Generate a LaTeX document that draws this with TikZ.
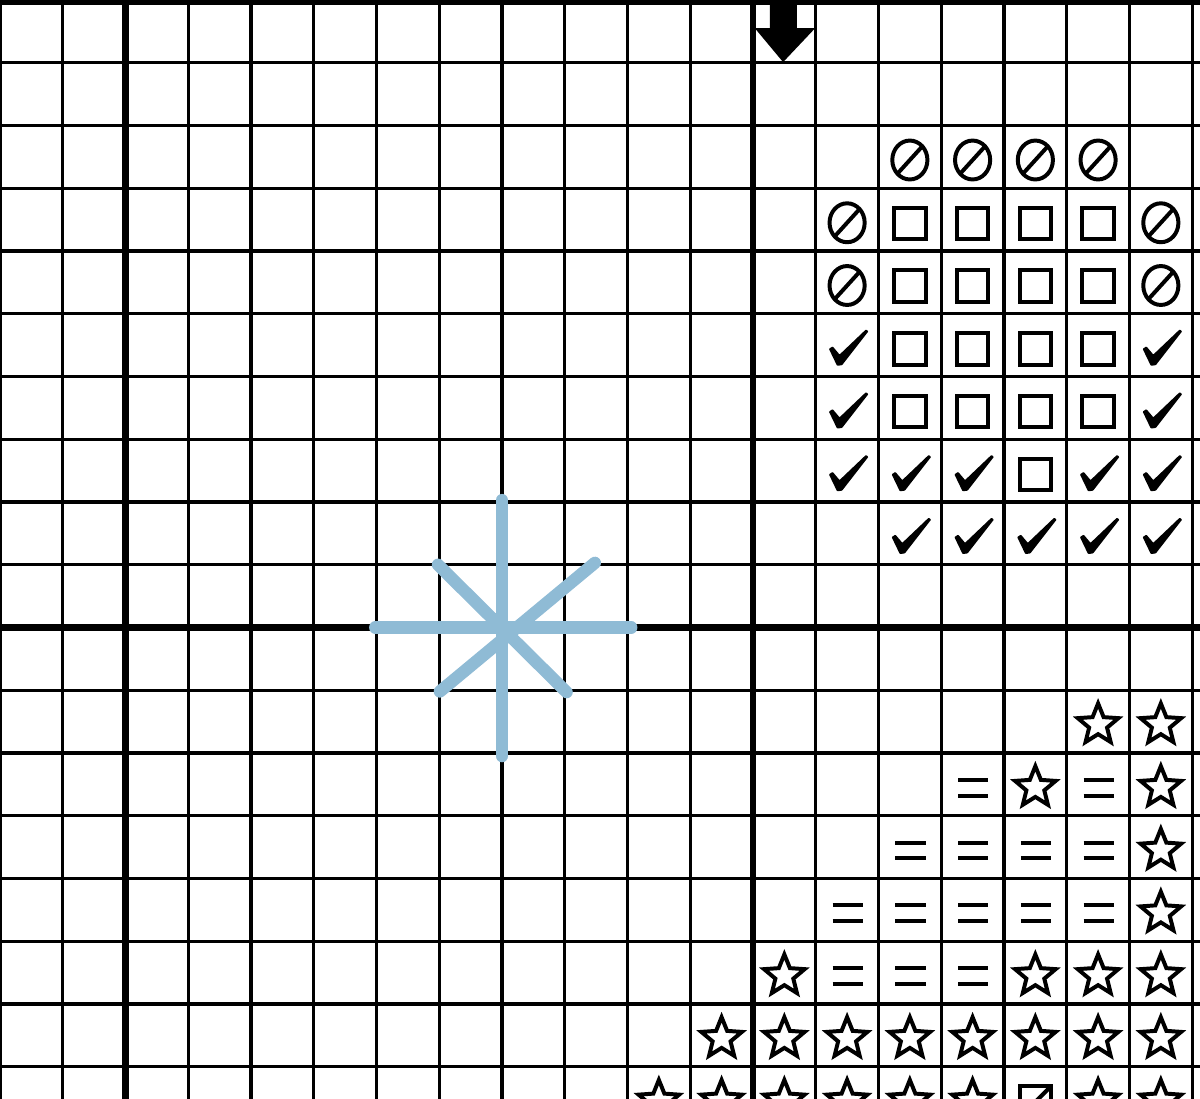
\documentclass[tikz,border=0pt]{standalone}
\usepackage{tikz}
\usepackage{xcolor}
\definecolor{flossblue}{RGB}{143,187,213}

\begin{document}
\begin{tikzpicture}[x=1cm,y=-1cm,
    thin grid/.style={line width=1.5pt},
    thick grid/.style={line width=2.8pt},
    sym/.style={line width=1.8pt},
    floss/.style={flossblue, line width=5.6pt, line cap=round},
    pics/nosign/.style={code={
        \draw[sym] (0,0.05) ellipse [x radius=0.28, y radius=0.31];
        \draw[sym] (-0.2,0.27) -- (0.2,-0.17);}},
    pics/boxsym/.style={code={
        \draw[sym] (-0.25,-0.19) rectangle (0.25,0.31);}},
    pics/slashbox/.style={code={
        \draw[sym] (-0.25,-0.19) rectangle (0.25,0.31);
        \draw[sym] (0.25,-0.19) -- (-0.25,0.31);}},
    pics/ticksym/.style={code={
        \fill[rounded corners=0.3pt] (-0.29,0.06) -- (-0.23,0.02) -- (-0.12,0.15) -- (0.30,-0.25)
            -- (0.34,-0.22) -- (-0.08,0.32) -- (-0.16,0.33) -- cycle;}},
    pics/starsym/.style={code={
        \draw[sym, line join=miter] (-90:0.34)
            \foreach \k in {0,...,3}{ -- ({-54+72*\k}:0.15) -- ({-18+72*\k}:0.34) }
            -- (234:0.15) -- cycle;}},
    pics/eqsym/.style={code={
        \draw[sym] (-0.23,-0.07) -- (0.25,-0.07) (-0.23,0.18) -- (0.25,0.18);}}
  ]
\useasboundingbox (0,0) rectangle (19.124,17.514);

% grid
\draw[thin grid] (0,0) grid (19.6,17.9);
\foreach \c in {2,12}
    \draw[thick grid] (\c,0) -- (\c,17.9);
\draw[thick grid] (0,10) -- (19.6,10);
\draw[line width=4.4pt] (0,0) -- (19.6,0);

% centre arrow
\fill (12.27,0) -- (12.70,0) -- (12.70,0.45) -- (12.99,0.45) -- (12.48,0.99)
    -- (12.03,0.45) -- (12.27,0.45) -- cycle;

% stitch demo
\draw[floss] (8,7.97) -- (8,12.05);
\draw[floss] (5.98,10) -- (10.06,10);
\draw[floss] (7.01,11.02) -- (9.48,8.97);
\draw[floss] (6.98,9.0) -- (9.03,11.03);

% chart symbols
\foreach \c/\r in {14/2,15/2,16/2,17/2,13/3,18/3,13/4,18/4}
    \pic at (\c+0.5,\r+0.5) {nosign};
\foreach \c/\r in {14/3,15/3,16/3,17/3,14/4,15/4,16/4,17/4,14/5,15/5,16/5,17/5,
                   14/6,15/6,16/6,17/6,16/7}
    \pic at (\c+0.5,\r+0.5) {boxsym};
\foreach \c/\r in {13/5,18/5,13/6,18/6,13/7,14/7,15/7,17/7,18/7,
                   14/8,15/8,16/8,17/8,18/8}
    \pic at (\c+0.5,\r+0.5) {ticksym};
\foreach \c/\r in {17/11,18/11,16/12,18/12,18/13,18/14,12/15,16/15,17/15,18/15,
                   11/16,12/16,13/16,14/16,15/16,16/16,17/16,18/16,
                   10/17,11/17,12/17,13/17,14/17,15/17,17/17,18/17}
    \pic at (\c+0.5,\r+0.55) {starsym};
\foreach \c/\r in {15/12,17/12,14/13,15/13,16/13,17/13,13/14,14/14,15/14,16/14,17/14,
                   13/15,14/15,15/15}
    \pic at (\c+0.5,\r+0.5) {eqsym};
\pic at (16.5,17.5) {slashbox};
\end{tikzpicture}
\end{document}
